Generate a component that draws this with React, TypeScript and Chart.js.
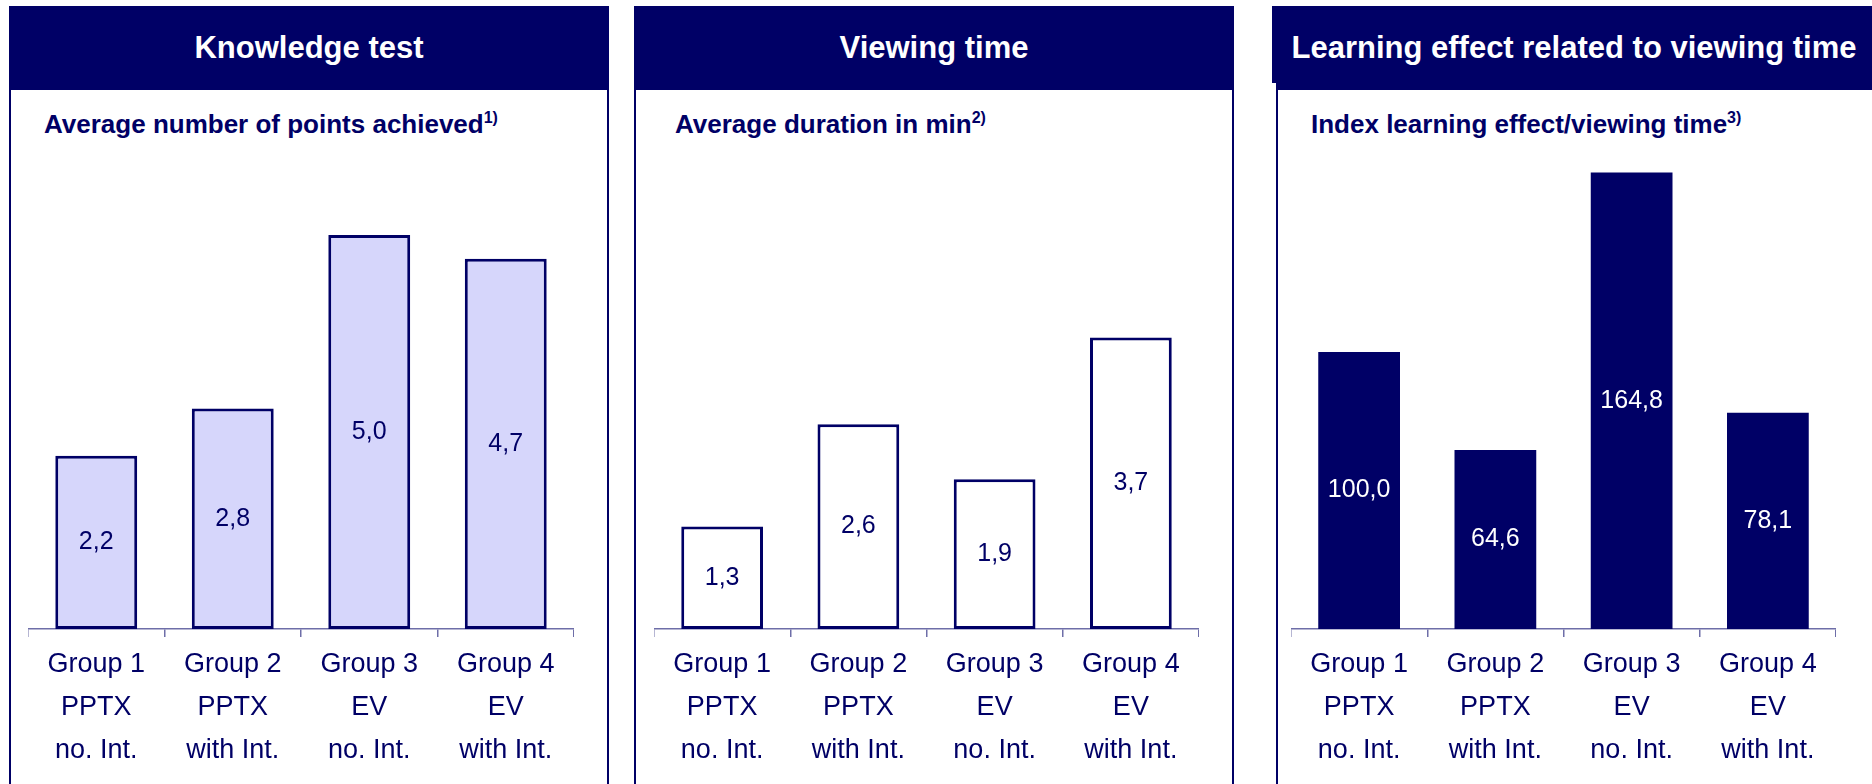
import React, { useEffect, useRef } from 'react';
import { Chart, registerables } from 'chart.js';

Chart.register(...registerables);

const NAVY = '#000066';
const LAVENDER = '#d6d6fb';
const AXIS = '#6e6ea8';
const FONT = "'Liberation Sans', Arial, Helvetica, sans-serif";

const categories = [
  ['Group 1', 'PPTX', 'no. Int.'],
  ['Group 2', 'PPTX', 'with Int.'],
  ['Group 3', 'EV', 'no. Int.'],
  ['Group 4', 'EV', 'with Int.'],
];
const knowledgeValues = [2.2, 2.8, 5.0, 4.7];
const viewingValues = [1.3, 2.6, 1.9, 3.7];
const indexValues = [100.0, 64.6, 164.8, 78.1];

const panelTitles = ['Knowledge test', 'Viewing time', 'Learning effect related to viewing time'];
const subtitles = ['Average number of points achieved', 'Average duration in min', 'Index learning effect/viewing time'];
const footnoteMarks = ['1)', '2)', '3)'];

const fmt = (v: number) => v.toFixed(1).replace('.', ',');

const valueLabelPlugin = {
  id: 'valueLabels',
  afterDatasetsDraw(chart: any, _args: any, opts: any) {
    const ctx = chart.ctx;
    const meta = chart.getDatasetMeta(0);
    const data = chart.data.datasets[0].data as number[];
    ctx.save();
    ctx.font = `25px ${FONT}`;
    ctx.fillStyle = opts.color || NAVY;
    ctx.textAlign = 'center';
    ctx.textBaseline = 'middle';
    meta.data.forEach((bar: any, i: number) => {
      const p = bar.getProps(['x', 'y', 'base'], true);
      ctx.fillText(fmt(data[i]), p.x, (p.y + p.base) / 2);
    });
    ctx.restore();
  },
};

type BarProps = {
  values: number[];
  yMax: number;
  fill: string;
  border: string;
  borderWidth: number;
  labelColor: string;
  left: number;
  width: number;
};

const CANVAS_TOP = 150;
const CANVAS_H = 628;

function BarPanelChart(props: BarProps) {
  const ref = useRef<HTMLCanvasElement | null>(null);
  useEffect(() => {
    if (!ref.current) return;
    const chart = new Chart(ref.current, {
      type: 'bar',
      data: {
        labels: categories,
        datasets: [
          {
            data: props.values,
            backgroundColor: props.fill,
            borderColor: props.border,
            borderWidth: props.borderWidth,
            borderSkipped: false,
            barPercentage: 0.6,
            categoryPercentage: 1,
          },
        ],
      },
      options: {
        responsive: false,
        maintainAspectRatio: false,
        animation: false,
        layout: { padding: 0 },
        plugins: {
          legend: { display: false },
          tooltip: { enabled: false },
          // @ts-ignore
          valueLabels: { color: props.labelColor },
        },
        scales: {
          x: {
            grid: {
              display: true,
              drawOnChartArea: false,
              drawTicks: true,
              tickLength: 8,
              color: AXIS,
              lineWidth: 1.5,
              offset: true,
            },
            border: { display: true, color: AXIS, width: 1.5 },
            ticks: {
              color: NAVY,
              padding: 6,
              maxRotation: 0,
              autoSkip: false,
              font: { family: FONT, size: 27, lineHeight: 43 / 27 },
            },
          },
          y: { display: false, min: 0, max: props.yMax },
        },
      },
      plugins: [valueLabelPlugin],
    });
    return () => chart.destroy();
  }, []);
  return (
    <canvas
      ref={ref}
      width={props.width}
      height={CANVAS_H}
      style={{ position: 'absolute', left: props.left, top: CANVAS_TOP, width: props.width, height: CANVAS_H }}
    />
  );
}

function Header(p: { left: number; width: number; title: string; bottom?: number }) {
  return (
    <div
      style={{
        position: 'absolute',
        left: p.left,
        top: 6,
        width: p.width,
        height: (p.bottom ?? 90) - 6,
        background: NAVY,
        color: '#fff',
        font: `bold 31px ${FONT}`,
        display: 'flex',
        alignItems: 'center',
        justifyContent: 'center',
        whiteSpace: 'nowrap',
      }}
    >
      {p.title}
    </div>
  );
}

function Box(p: { left: number; width: number; noRight?: boolean }) {
  return (
    <div
      style={{
        position: 'absolute',
        left: p.left,
        top: 88,
        width: p.width,
        height: 720,
        borderLeft: `2px solid ${NAVY}`,
        borderRight: p.noRight ? 'none' : `2px solid ${NAVY}`,
        borderTop: `2px solid ${NAVY}`,
        boxSizing: 'border-box',
      }}
    />
  );
}

function Subtitle(p: { left: number; text: string; mark: string }) {
  return (
    <div
      style={{
        position: 'absolute',
        left: p.left,
        top: 109,
        color: NAVY,
        font: `bold 26px ${FONT}`,
        whiteSpace: 'nowrap',
        lineHeight: '30px',
      }}
    >
      {p.text}
      <span style={{ fontSize: 16, position: 'relative', top: -10 }}>{p.mark}</span>
    </div>
  );
}

export default function App() {
  return (
    <div
      style={{
        position: 'fixed',
        left: 0,
        top: 0,
        width: 1872,
        height: 784,
        background: '#fff',
        overflow: 'hidden',
      }}
    >
      <Box left={9} width={600} />
      <Box left={634} width={600} />
      <Box left={1276} width={620} noRight />
      <Header left={9} width={600} title={panelTitles[0]} />
      <Header left={634} width={600} title={panelTitles[1]} />
      <div style={{ position: 'absolute', left: 1272, top: 6, width: 10, height: 77, background: NAVY }} />
      <Header left={1276} width={596} title={panelTitles[2]} />
      <Subtitle left={44} text={subtitles[0]} mark={footnoteMarks[0]} />
      <Subtitle left={675} text={subtitles[1]} mark={footnoteMarks[1]} />
      <Subtitle left={1311} text={subtitles[2]} mark={footnoteMarks[2]} />
      <BarPanelChart values={knowledgeValues} yMax={6.08} fill={LAVENDER} border={NAVY} borderWidth={3} labelColor={NAVY} left={28} width={546} />
      <BarPanelChart values={viewingValues} yMax={6.08} fill="#ffffff" border={NAVY} borderWidth={3} labelColor={NAVY} left={654} width={545} />
      <BarPanelChart values={indexValues} yMax={172.9} fill={NAVY} border={NAVY} borderWidth={0} labelColor="#ffffff" left={1291} width={545} />
    </div>
  );
}
